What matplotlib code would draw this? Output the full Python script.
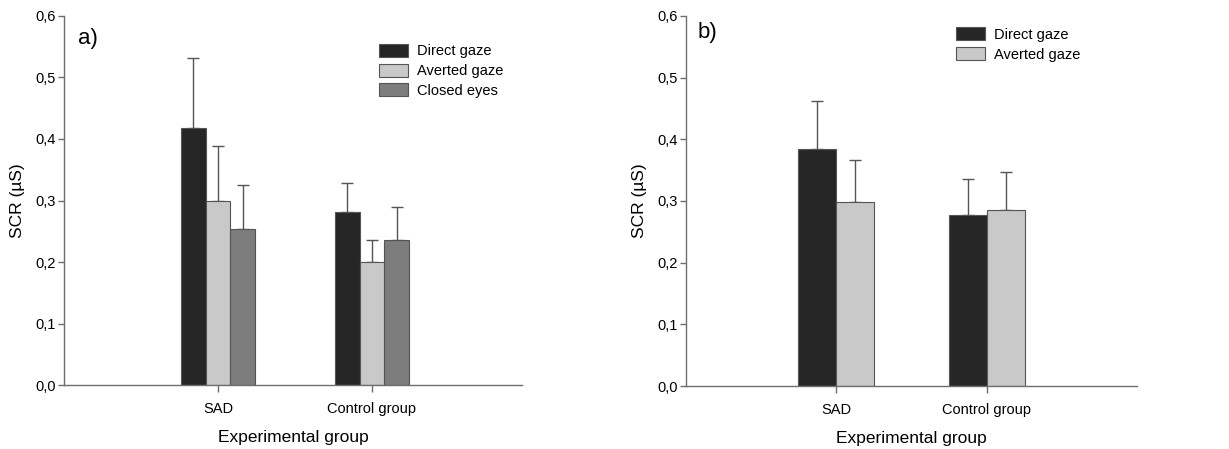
import matplotlib
matplotlib.use("Agg")
import matplotlib.pyplot as plt
import numpy as np
from matplotlib.patches import Patch

plt.rcParams['font.family'] = ['Liberation Sans', 'DejaVu Sans']

groups = ["SAD", "Control group"]

# Panel a
a_labels = ["Direct gaze", "Averted gaze", "Closed eyes"]
a_direct = [0.418, 0.282]
a_averted = [0.299, 0.200]
a_closed = [0.254, 0.235]
a_direct_err = [0.113, 0.047]
a_averted_err = [0.090, 0.036]
a_closed_err = [0.072, 0.054]

# Panel b
b_labels = ["Direct gaze", "Averted gaze"]
b_direct = [0.385, 0.278]
b_averted = [0.298, 0.285]
b_direct_err = [0.077, 0.057]
b_averted_err = [0.069, 0.062]

yticks = [0.0, 0.1, 0.2, 0.3, 0.4, 0.5, 0.6]
ytick_labels = ["0,0", "0,1", "0,2", "0,3", "0,4", "0,5", "0,6"]

c_dark = "#262626"
c_light = "#c9c9c9"
c_mid = "#7d7d7d"
edge = "#555555"
axis_col = "#6e6e6e"

fig = plt.figure(figsize=(12.29, 4.49), dpi=100)
ax_a = fig.add_axes([0.0521, 0.1425, 0.3726, 0.8219])
ax_b = fig.add_axes([0.5582, 0.1403, 0.3669, 0.8241])


def style(ax, xlim):
    ax.set_ylim(0, 0.6)
    ax.set_xlim(*xlim)
    ax.set_yticks(yticks)
    ax.set_yticklabels(ytick_labels)
    ax.set_xticks(np.arange(len(groups)))
    ax.set_xticklabels(groups)
    for s in ["top", "right"]:
        ax.spines[s].set_visible(False)
    for s in ["left", "bottom"]:
        ax.spines[s].set_color(axis_col)
        ax.spines[s].set_linewidth(1.0)
    ax.tick_params(axis='y', direction='out', length=4, width=1, color=axis_col,
                   labelsize=10.5, pad=2)
    ax.tick_params(axis='x', direction='out', length=5, width=1, color=axis_col,
                   labelsize=10.5, pad=7)
    ax.set_ylabel("SCR (µS)", fontsize=12.5, labelpad=7)
    ax.set_xlabel("Experimental group", fontsize=12.5, labelpad=10)


x = np.arange(len(groups))
# Panel a bars
w = 0.16
series_a = [(a_direct, a_direct_err, c_dark), (a_averted, a_averted_err, c_light),
            (a_closed, a_closed_err, c_mid)]
for i, (vals, errs, col) in enumerate(series_a):
    pos = x + (i - 1) * w
    ax_a.bar(pos, vals, width=w, color=col, edgecolor=edge, linewidth=0.8, zorder=2)
    ax_a.errorbar(pos, vals, yerr=[np.zeros(len(errs)), errs], fmt='none',
                  ecolor=edge, elinewidth=1, capsize=4, capthick=1, zorder=1)
style(ax_a, (-1.0, 1.974))
ax_a.text(0.03, 0.94, "a)", transform=ax_a.transAxes, fontsize=16, va='center', ha='left')
handles_a = [Patch(facecolor=c, edgecolor=edge, linewidth=0.8) for c in (c_dark, c_light, c_mid)]
ax_a.legend(handles_a, a_labels, loc='upper left', bbox_to_anchor=(0.675, 0.94),
            frameon=False, fontsize=10.5, handlelength=2.0, handleheight=1.0,
            labelspacing=0.35, handletextpad=0.6, borderaxespad=0)

# Panel b bars
wb = 0.253
series_b = [(b_direct, b_direct_err, c_dark), (b_averted, b_averted_err, c_light)]
for i, (vals, errs, col) in enumerate(series_b):
    pos = x + (i - 0.5) * wb
    ax_b.bar(pos, vals, width=wb, color=col, edgecolor=edge, linewidth=0.8, zorder=2)
    ax_b.errorbar(pos, vals, yerr=[np.zeros(len(errs)), errs], fmt='none',
                  ecolor=edge, elinewidth=1, capsize=4, capthick=1, zorder=1)
style(ax_b, (-1.0, 2.0))
ax_b.text(0.025, 0.955, "b)", transform=ax_b.transAxes, fontsize=16, va='center', ha='left')
handles_b = [Patch(facecolor=c, edgecolor=edge, linewidth=0.8) for c in (c_dark, c_light)]
ax_b.legend(handles_b, b_labels, loc='upper left', bbox_to_anchor=(0.585, 0.985),
            frameon=False, fontsize=10.5, handlelength=2.0, handleheight=1.0,
            labelspacing=0.35, handletextpad=0.6, borderaxespad=0)

fig.savefig("out.png", dpi=100)
